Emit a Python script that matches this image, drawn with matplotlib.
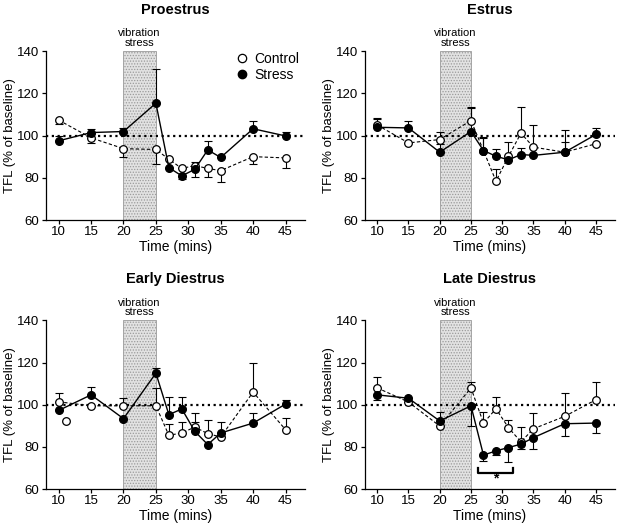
import matplotlib
matplotlib.use('Agg')
import matplotlib.pyplot as plt
from matplotlib.lines import Line2D

plt.rcParams['font.family'] = ['Liberation Sans', 'DejaVu Sans']
plt.rcParams['hatch.color'] = '#9a9a9a'
plt.rcParams['hatch.linewidth'] = 0.6

time = [10, 15, 20, 25, 27, 29, 31, 33, 35, 40, 45]

# signed error: + drawn above the point, - drawn below, 0 = no bar
pro_ctrl = [107.3, 98.9, 93.8, 93.4, 88.8, 84.4, 85.8, 84.4, 83.4, 90.0, 89.4]
pro_ctrl_err = [-1.9, -2.5, -3.8, -6.8, 0, 0, 1.9, -3.8, -5.4, -3.4, -4.9]
pro_str = [97.5, 101.4, 101.9, 115.3, 84.8, 80.9, 84.0, 93.2, 89.6, 103.2, 99.8]
pro_str_err = [2.5, 1.6, 1.6, 16.1, 0, -1.6, -3.4, 4.0, 0, 3.8, 1.8]

est_ctrl = [105.0, 96.5, 98.1, 107.1, 92.9, 78.4, 90.1, 101.1, 94.5, 92.1, 96.1]
est_ctrl_err = [3.2, 0, 3.5, 6.3, 6.3, 5.9, 6.8, 12.6, 10.4, 10.4, 0]
est_str = [103.9, 103.6, 92.1, 101.9, 92.9, 90.2, 88.5, 91.0, 90.6, 92.1, 100.5]
est_str_err = [4.0, 3.2, 3.9, 11.0, 6.0, 3.5, 0, 3.2, 0, 4.8, 3.1]

ed_ctrl = [101.4, 99.5, 99.5, 99.5, 85.5, 86.6, 89.4, 86.3, 84.7, 106.0, 88.2]
ed_ctrl_err = [4.1, 0, 3.5, 8.4, 5.5, 5.2, 6.6, 6.3, 0, 13.7, 5.5]
ed_str = [97.3, 104.7, 93.4, 115.0, 95.3, 98.0, 87.4, 81.1, 86.6, 91.3, 100.3]
ed_str_err = [0, 3.5, 0, 2.5, 8.2, 5.5, 4.4, 0, 5.4, 4.8, 2.1]
ed_stray_t = [11.2]
ed_stray_v = [92.5]

ld_ctrl = [108.0, 101.3, 89.9, 108.0, 91.3, 98.1, 89.1, 82.4, 88.6, 94.5, 102.4]
ld_ctrl_err = [5.2, 0, 0, 2.7, 5.2, 5.8, 3.5, 7.0, 7.5, 11.0, 8.3]
ld_str = [104.7, 103.1, 92.3, 99.5, 76.1, 78.1, 79.7, 81.3, 84.4, 91.0, 91.3]
ld_str_err = [-2.3, 0, 4.2, -9.6, -2.7, -2.0, -7.1, -2.1, -5.5, -5.8, -4.7]

panels = [
    ('Proestrus', pro_ctrl, pro_ctrl_err, pro_str, pro_str_err),
    ('Estrus', est_ctrl, est_ctrl_err, est_str, est_str_err),
    ('Early Diestrus', ed_ctrl, ed_ctrl_err, ed_str, ed_str_err),
    ('Late Diestrus', ld_ctrl, ld_ctrl_err, ld_str, ld_str_err),
]

positions = [
    [0.0729, 0.5817, 0.4135, 0.3213],
    [0.5817, 0.5817, 0.3987, 0.3213],
    [0.0729, 0.0703, 0.4135, 0.3204],
    [0.5817, 0.0703, 0.3987, 0.3204],
]


def split_err(e):
    return [[max(-v, 0) for v in e], [max(v, 0) for v in e]]


fig = plt.figure(figsize=(6.27, 5.26), dpi=100)

for (title, c, ce, s, se), pos in zip(panels, positions):
    ax = fig.add_axes(pos)
    ax.axvspan(20, 25, facecolor='#e2e2e2', edgecolor='#9a9a9a', hatch='......', lw=0.6, zorder=0)
    ax.axhline(100, color='black', ls=(0, (1, 1.6)), lw=1.6, zorder=1)

    ax.errorbar(time, s, yerr=split_err(se), fmt='none', ecolor='black', elinewidth=0.8, capsize=3, capthick=0.8, zorder=2)
    ax.errorbar(time, c, yerr=split_err(ce), fmt='none', ecolor='black', elinewidth=0.8, capsize=3, capthick=0.8, zorder=2)
    ax.plot(time, c, color='black', ls=(0, (3, 2)), lw=0.8, marker='o', ms=5.5, mfc='white', mec='black', mew=0.9, zorder=3)
    ax.plot(time, s, color='black', ls='-', lw=1.0, marker='o', ms=5.5, mfc='black', mec='black', zorder=4)

    if title == 'Early Diestrus':
        ax.plot(ed_stray_t, ed_stray_v, ls='none', marker='o', ms=5.5, mfc='white', mec='black', mew=0.9, zorder=3)

    if title == 'Late Diestrus':
        ax.plot([26.2, 26.2, 31.7, 31.7], [70, 67.6, 67.6, 70], color='black', lw=1.6, zorder=4, clip_on=False)
        ax.text(28.95, 65.0, '*', ha='center', va='center', fontsize=10, fontweight='bold')

    ax.text(22.5, 141.5, 'vibration\nstress', ha='center', va='bottom', fontsize=8, linespacing=0.95)

    ax.set_xlim(8, 48)
    ax.set_ylim(60, 140)
    ax.set_xticks([10, 15, 20, 25, 30, 35, 40, 45])
    ax.set_yticks([60, 80, 100, 120, 140])
    ax.tick_params(direction='out', length=3, width=0.9, labelsize=9.5, pad=1.5)
    for side in ['top', 'right']:
        ax.spines[side].set_visible(False)
    for side in ['left', 'bottom']:
        ax.spines[side].set_linewidth(0.9)
    ax.set_xlabel('Time (mins)', fontsize=10, labelpad=1)
    ax.set_ylabel('TFL (% of baseline)', fontsize=9.5, labelpad=1)
    ax.set_title(title, fontsize=10.5, fontweight='bold', pad=27)

    if title == 'Proestrus':
        handles = [
            Line2D([], [], ls='none', marker='o', ms=6, mfc='white', mec='black', mew=0.9),
            Line2D([], [], ls='none', marker='o', ms=6, mfc='black', mec='black'),
        ]
        ax.legend(handles, ['Control', 'Stress'], loc='upper right', frameon=False,
                  fontsize=10, handlelength=0.8, handletextpad=0.5, borderaxespad=0.0,
                  labelspacing=0.2, bbox_to_anchor=(1.0, 1.03))

fig.savefig('out.png', dpi=100)
